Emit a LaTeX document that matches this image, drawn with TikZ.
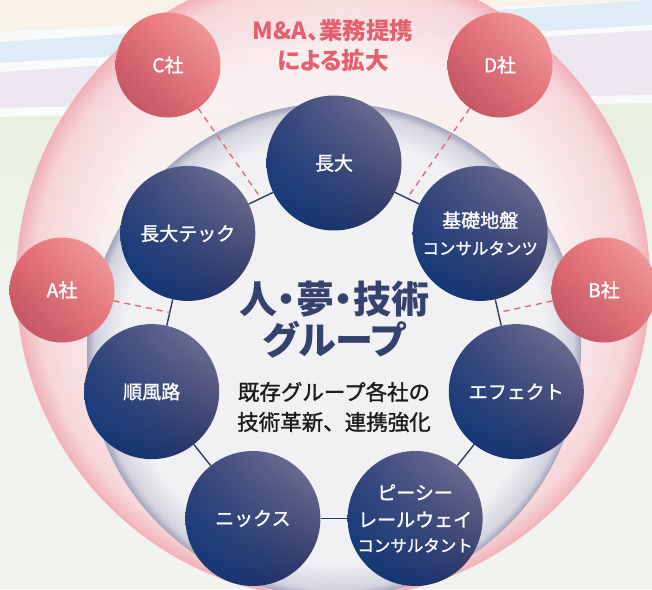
\documentclass[tikz,border=0pt]{standalone}
\usepackage{fontspec}
\setmainfont{Noto Sans CJK JP}
\newfontfamily\labelfont{Noto Sans CJK JP}[BoldFont={Noto Sans CJK JP}, BoldFeatures={FakeBold=1.3}]
\newfontfamily\headfont{Noto Sans CJK JP}[RawFeature=+palt]
\usetikzlibrary{calc,shadings}
\definecolor{navyhi}{HTML}{7E7A9A}
\definecolor{navylo}{HTML}{08367A}
\definecolor{navyul}{HTML}{36447A}
\definecolor{navylr}{HTML}{2A3262}
\definecolor{redhi}{HTML}{F3A7A3}
\definecolor{redlo}{HTML}{B54F5B}
\definecolor{redul}{HTML}{E76975}
\definecolor{redlr}{HTML}{E56C77}
\definecolor{navyline}{HTML}{2B3A68}
\definecolor{pinkdash}{HTML}{E8606E}
\definecolor{pinktitle}{HTML}{E5606E}
\definecolor{navytitle}{HTML}{34426D}
\definecolor{inktext}{HTML}{1C1C1C}
\definecolor{pinkin}{HTML}{FBEFF0}
\definecolor{pinkmid}{HTML}{F7D3D7}
\definecolor{pinkrim}{HTML}{F1ABB2}
\definecolor{discin}{HTML}{F1F1F4}
\definecolor{discmid}{HTML}{D3D3DF}
\definecolor{discrim}{HTML}{A3A3BD}
\definecolor{bgbase}{HTML}{F1F4EE}
\definecolor{bgcream}{HTML}{F8F3E6}
\definecolor{bgblue}{HTML}{DDECF5}
\definecolor{bglav}{HTML}{EDE7F1}
\definecolor{bggreen}{HTML}{E8F0DF}
\definecolor{bgwhite}{HTML}{F8FAFB}
\pgfdeclareradialshading{pinkglow}{\pgfpoint{0bp}{0bp}}{color(0bp)=(pinkin); color(18bp)=(pinkin); color(23.5bp)=(pinkmid); color(25bp)=(pinkrim); color(50bp)=(pinkrim)}
\pgfdeclareradialshading{innerdisc}{\pgfpoint{0bp}{0bp}}{color(0bp)=(discin); color(21.5bp)=(discin); color(24.2bp)=(discmid); color(25bp)=(discrim); color(50bp)=(discrim)}
\begin{document}
\begin{tikzpicture}[x=1pt, y=1pt,
        member/.style = {circle, minimum size=135pt, inner sep=0pt, align=center, text=white,
            upper right=navyhi, lower left=navylo, upper left=navyul, lower right=navylr,
            font=\labelfont\bfseries\fontsize{19}{27}\selectfont},
        partner/.style = {circle, minimum size=105pt, inner sep=0pt, text=white,
            upper right=redhi, lower left=redlo, upper left=redul, lower right=redlr,
            font=\labelfont\bfseries\fontsize{19}{23}\selectfont},
        link/.style = {draw=navyline, line width=1.4pt},
        tie/.style = {draw=pinkdash, line width=1.3pt, dash pattern=on 6pt off 5pt}]
    \useasboundingbox (0,0) rectangle (652,-589);
    \begin{scope}
        \clip (0,0) rectangle (652,-589);
        \fill[bgbase] (0,0) rectangle (652,-589);
        \fill[bgcream] (0,0) -- (652,0) -- (0,-32) -- cycle;
        \fill[bgwhite] (0,-32) -- (652,0) -- (0,-42) -- cycle;
        \fill[bgblue] (0,-42) -- (652,0) -- (652,-25) -- (0,-63) -- cycle;
        \fill[bgwhite] (0,-63) -- (652,-25) -- (652,-30) -- (0,-72) -- cycle;
        \fill[bglav] (0,-72) -- (652,-30) -- (652,-95) -- (0,-108) -- cycle;
        \fill[bgwhite] (0,-108) -- (652,-95) -- (652,-103) -- (0,-117) -- cycle;
        \shade[top color=bggreen, bottom color=bgbase] (0,-117) -- (652,-103) -- (652,-300) -- (0,-300) -- cycle;
        \shade[shading=pinkglow, opacity=0.9] (333,-282) circle (317);
        \shade[shading=innerdisc] (334,-350) circle (247);
    \end{scope}
    \coordinate (hub) at (334,-350);
    \node[member] (chodai) at ($(hub)+(90:187)$) {長大};
    \node[member] (kiso) at ($(hub)+(38.57:187)$) {基礎地盤\\{\fontsize{16.5}{24}\selectfont コンサルタンツ}};
    \node[member] (effect) at ($(hub)+(-12.86:187)$) {エフェクト};
    \node[member] (pcrail) at ($(hub)+(-64.29:187)$) {ピーシー\\レールウェイ\\[-2pt]{\fontsize{16.5}{24}\selectfont コンサルタント}};
    \node[member] (nix) at ($(hub)+(-115.71:187)$) {ニックス};
    \node[member] (junpu) at ($(hub)+(192.86:187)$) {順風路};
    \node[member] (tech) at ($(hub)+(141.43:187)$) {長大テック};
    \node[partner] (compC) at (168,-65) {C社};
    \node[partner] (compD) at (500,-65) {D社};
    \node[partner] (compA) at (62,-290) {A社};
    \node[partner] (compB) at (604,-290) {B社};
    \path[link] (chodai) edge (kiso) (kiso) edge (effect) (effect) edge (pcrail)
        (pcrail) edge (nix) (nix) edge (junpu) (junpu) edge (tech) (tech) edge (chodai);
    \draw[tie] (compC) -- ($(tech)!0.5!(chodai)$);
    \draw[tie] (compD) -- ($(kiso)!0.5!(chodai)$);
    \draw[tie] (compA) -- ($(tech)!0.5!(junpu)$);
    \draw[tie] (compB) -- ($(kiso)!0.5!(effect)$);
    \node[text=pinktitle, font=\headfont\bfseries\fontsize{23.5}{30}\selectfont, align=center] (slogan) at (333,-46) {M\&A、業務提携\\による拡大};
    \node[text=navytitle, font=\headfont\bfseries\fontsize{38}{41}\selectfont, align=center] (group) at (334,-320) {人・夢・技術\\グループ};
    \node[text=inktext, font=\labelfont\bfseries\fontsize{21.5}{30}\selectfont, align=center] (aim) at (334,-407) {既存グループ各社の\\技術革新、連携強化};
\end{tikzpicture}
\end{document}
